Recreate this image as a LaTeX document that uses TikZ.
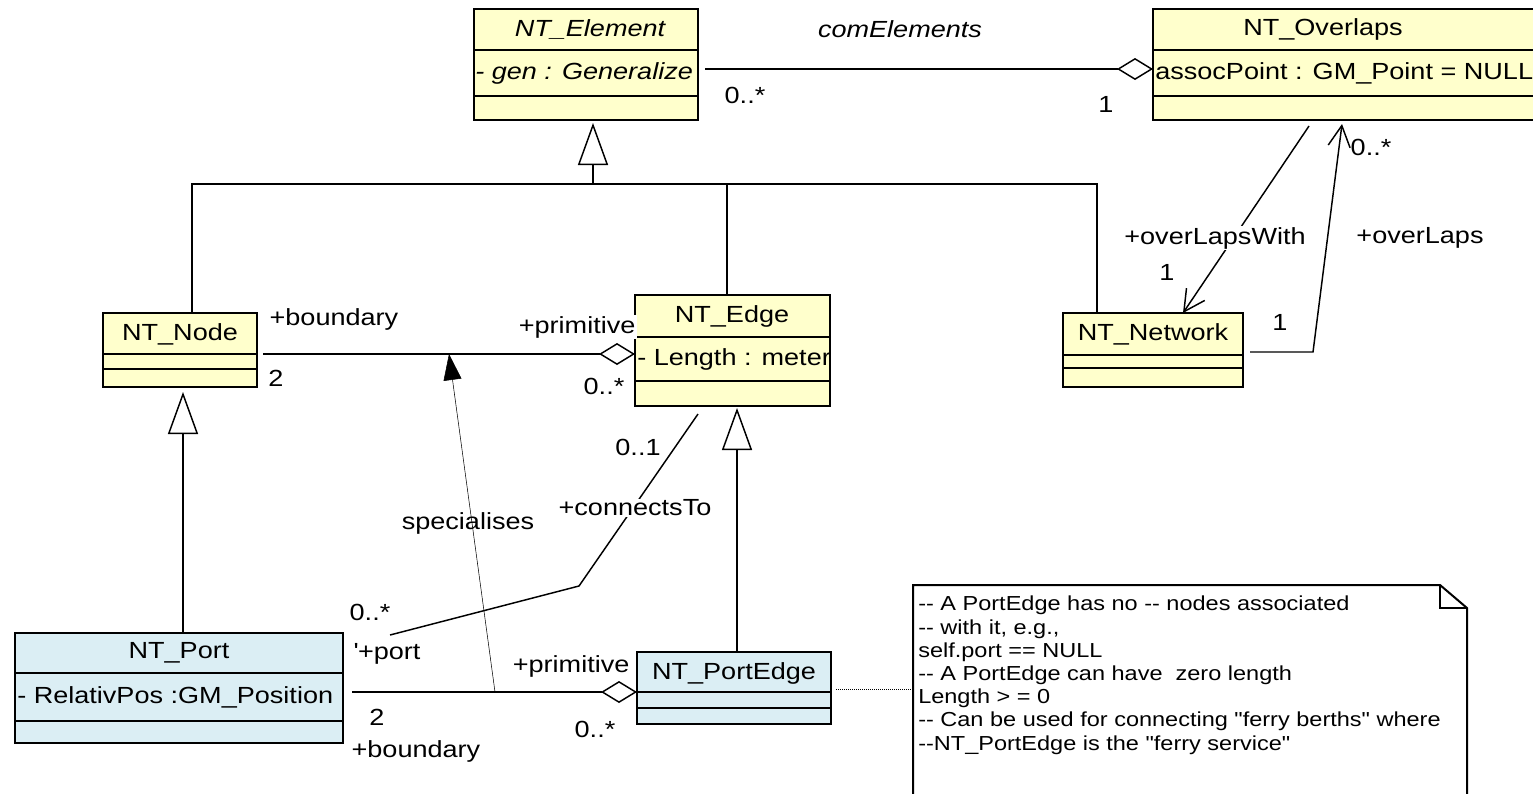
\documentclass[tikz,border=0pt]{standalone}
\usepackage{fontspec}
\setmainfont{Liberation Sans}[FakeStretch=1.16, Ligatures=TeXOff]
\usetikzlibrary{arrows.meta,fit,calc}
\definecolor{cyel}{RGB}{255,255,204}
\definecolor{cblu}{RGB}{219,238,244}
\newcommand{\clsfont}{\fontsize{17.5}{21}\selectfont}
\newcommand{\notefont}{\fontsize{15.2}{17.4}\selectfont}
\begin{document}
\begin{tikzpicture}[x=0.75pt,y=-0.75pt,
  umlbox/.style={draw, line width=1.5pt, inner sep=0pt, outer sep=0pt},
  rowline/.style={line width=1.5pt},
  conn/.style={line width=1.1pt},
  gen/.style={conn, -{Triangle[fill=white, length=31.5pt, width=22.5pt]}},
  aggr/.style={conn, -{Diamond[fill=white, length=27pt, width=16.5pt]}},
  nav/.style={conn, -{Straight Barb[length=15.75pt, width=16.5pt]}},
  dep/.style={line width=0.4pt, -{Triangle[length=19.5pt, width=13.5pt]}},
  cls/.style={font=\clsfont, inner sep=0pt},
  attr/.style={font=\clsfont, inner sep=0pt, anchor=west},
  lbl/.style={font=\clsfont, inner sep=1pt},
  wlbl/.style={font=\clsfont, inner sep=1pt, fill=white}
]
\useasboundingbox (0,0) rectangle (1533,793);

% ---------- classes ----------
\node[umlbox, fill=cyel, fit={(474,9)(698,120)}] (elem) {};
\draw[rowline] (474,50) -- (698,50) (474,96) -- (698,96);
\node[cls] (elemname) at (590,29) {\itshape NT\_Element};
\node[attr] (elemattr) at (475,73) {\itshape - gen : Generalize};

\node[umlbox, fill=cyel, fit={(1153,9)(1540,120)}] (overl) {};
\draw[rowline] (1153,50) -- (1540,50) (1153,96) -- (1540,96);
\node[cls] (overlname) at (1323,29) {NT\_Overlaps};
\node[attr] (overlattr) at (1155,73) {assocPoint : GM\_Point = NULL};

\node[umlbox, fill=cyel, fit={(103,313)(257,387)}] (nodebox) {};
\draw[rowline] (103,354) -- (257,354) (103,369) -- (257,369);
\node[cls] (nodename) at (180,334) {NT\_Node};

\node[umlbox, fill=cyel, fit={(635,295)(830,406)}] (edgebox) {};
\draw[rowline] (635,337) -- (830,337) (635,381) -- (830,381);
\node[cls] (edgename) at (732,316) {NT\_Edge};
\node[attr] (edgeattr) at (637,359) {- Length : meter};

\node[umlbox, fill=cyel, fit={(1063,313)(1243,387)}] (netbox) {};
\draw[rowline] (1063,355) -- (1243,355) (1063,368) -- (1243,368);
\node[cls] (netname) at (1153,334) {NT\_Network};

\node[umlbox, fill=cblu, fit={(15,633)(343,743)}] (portbox) {};
\draw[rowline] (15,673) -- (343,673) (15,721) -- (343,721);
\node[cls] (portname) at (179,653) {NT\_Port};
\node[attr] (portattr) at (17,697) {- RelativPos :GM\_Position};

\node[umlbox, fill=cblu, fit={(637,652)(831,724)}] (pebox) {};
\draw[rowline] (637,692) -- (831,692) (637,708) -- (831,708);
\node[cls] (pename) at (734,673) {NT\_PortEdge};

% ---------- note ----------
\draw[line width=1.5pt, fill=white] (913,800) -- (913,585) -- (1440,585) -- (1467,608) -- (1467,800);
\draw[line width=1.1pt] (1440,585) -- (1440,608) -- (1467,608);
\node[font=\notefont, align=left, anchor=north west, inner sep=0pt] (notetext) at (918,596)
{-{}- A PortEdge has no -{}- nodes associated\\
-{}- with it, e.g.,\\
self.port == NULL\\
-{}- A PortEdge can have\ \ zero length\\
Length > = 0\\
-{}- Can be used for connecting "ferry berths" where\\
-{}-NT\_PortEdge is the "ferry service"};
\coordinate (notew) at (913,689);
\draw[line width=0.5pt, densely dotted] (pebox.east |- notew) ++(5,0) -- (notew);

% ---------- generalizations ----------
\coordinate (j0) at (593,184);
\coordinate (jl) at (192,184);
\coordinate (jm) at (727,184);
\coordinate (jr) at (1097,184);
\draw[gen, shorten >=2.25pt] (j0) -- (j0 |- elem.south);
\draw[conn] (jl |- nodebox.north) -- (jl) -- (jr) -- (jr |- netbox.north);
\draw[conn] (jm) -- (jm |- edgebox.north);

\coordinate (g1) at (183,633);
\draw[gen, shorten >=3.75pt] (g1) -- (g1 |- nodebox.south);
\coordinate (g2) at (737,652);
\draw[gen, shorten >=1.5pt] (g2) -- (g2 |- edgebox.south);

% ---------- aggregations ----------
\coordinate (a0) at (705,69);
\draw[aggr] (a0) -- (a0 -| overl.west);
\coordinate (a1) at (263,354);
\draw[aggr] (a1) -- (a1 -| edgebox.west);
\coordinate (a2) at (352,692);
\draw[aggr] (a2) -- (a2 -| pebox.west);

% ---------- dependency ----------
\coordinate (d0) at (495,692);
\coordinate (d1) at (449,354);
\draw[dep] (d0) -- (d1);

% ---------- connectsTo ----------
\coordinate (c0) at (698,414);
\coordinate (c1) at (579,586);
\coordinate (c2) at (390,635);
\draw[conn] (c0) -- (c1) -- (c2);

% ---------- overlaps ----------
\coordinate (o0) at (1309,126);
\coordinate (o1) at (1183,313);
\draw[nav] (o0) -- (o1);
\coordinate (o2) at (1250,352);
\coordinate (o3) at (1313,352);
\coordinate (o4) at (1342,124);
\draw[nav] (o2) -- (o3) -- (o4);

% ---------- labels ----------
\node[lbl] (lcom) at (900,29) {\itshape comElements};
\node[lbl] (lm1) at (745,95) {0..*};
\node[lbl] (lm2) at (1106,104) {1};

\node[lbl, anchor=west] (lbnd1) at (268,319) {+boundary};
\node[lbl] (lm3) at (276,378) {2};
\node[wlbl, anchor=east] (lprim1) at (637,327) {+primitive};
\node[lbl] (lm4) at (604,386) {0..*};

\node[lbl] (lm5) at (638,447) {0..1};
\node[wlbl] (lconn) at (635,508) {+connectsTo};
\node[lbl] (lspec) at (468,523) {specialises};
\node[lbl] (lm6) at (370,612) {0..*};
\node[lbl, anchor=west] (lport) at (352,654) {\textquotesingle+port};

\node[lbl, anchor=east] (lprim2) at (631,666) {+primitive};
\node[lbl] (lm7) at (595,729) {0..*};
\node[lbl] (lm8) at (377,717) {2};
\node[lbl, anchor=west] (lbnd2) at (350,751) {+boundary};

\node[wlbl] (lolw) at (1215,238) {+overLapsWith};
\node[lbl] (lm9) at (1167,272) {1};
\node[lbl] (lol) at (1420,238) {+overLaps};
\node[lbl] (lm10) at (1371,147) {0..*};
\node[lbl] (lm11) at (1280,322) {1};
\end{tikzpicture}
\end{document}
